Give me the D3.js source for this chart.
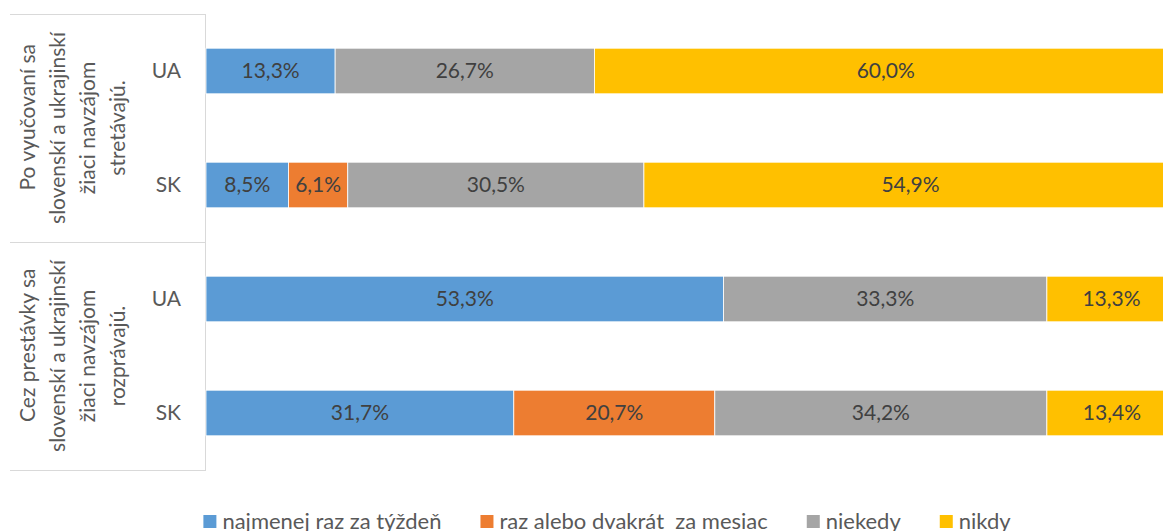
<!DOCTYPE html>
<html>
<head>
<meta charset="utf-8">
<script src="https://cdn.jsdelivr.net/npm/d3@7"></script>
<style>
  body { margin: 0; background: #fff; }
  svg { font-family: Lato, "Open Sans", sans-serif; }
</style>
</head>
<body>
<script>
// data
const series = ["najmenej raz za týždeň", "raz alebo dvakrát  za mesiac", "niekedy", "nikdy"];
const colors = ["#5b9bd5", "#ed7d31", "#a5a5a5", "#ffc000"];
const groups = [
  ["    Po vyučovaní sa", "slovenskí a ukrajinskí", "žiaci navzájom", "stretávajú."],
  ["    Cez prestávky sa", "slovenskí a ukrajinskí", "žiaci navzájom", "rozprávajú."]
];
const rows = ["UA", "SK", "UA", "SK"];
const rowGroup = [0, 0, 1, 1];
const najmenej = [13.3, 8.5, 53.3, 31.7];
const razAlebo = [0, 6.1, 0, 20.7];
const niekedy = [26.7, 30.5, 33.3, 34.2];
const nikdy = [60.0, 54.9, 13.3, 13.4];

const w = 1163, h = 531;
const plotTop = 14, plotBottom = 470, axisX = 206, plotRight = 1177;
const fs = 21;

const table = rows.map((r, i) => ({
  key: i, row: r,
  v: [najmenej[i], razAlebo[i], niekedy[i], nikdy[i]]
}));

const svg = d3.select("body").append("svg")
  .attr("width", w).attr("height", h);

const x = d3.scaleLinear().domain([0, 100]).range([axisX, plotRight]);
const y = d3.scaleBand()
  .domain(table.map(d => d.key))
  .range([plotTop, plotBottom])
  .paddingInner(0.6).paddingOuter(0.3);

// frame of the category area
const frame = svg.append("g").attr("stroke", "#d9d9d9").attr("stroke-width", 1);
[plotTop, (plotTop + plotBottom) / 2, plotBottom].forEach(yy => {
  frame.append("line").attr("x1", 10).attr("x2", axisX).attr("y1", yy + 0.5).attr("y2", yy + 0.5);
});
frame.append("line").attr("x1", axisX - 0.5).attr("x2", axisX - 0.5)
  .attr("y1", plotTop).attr("y2", plotBottom + 1);

// stacked bars
const stack = d3.stack().keys([0, 1, 2, 3]).value((d, k) => d.v[k]);
const layers = stack(table);

const barG = svg.append("g");
layers.forEach((layer, k) => {
  const segs = layer.filter(s => s[1] - s[0] > 0);
  barG.selectAll(null)
    .data(segs)
    .enter().append("rect")
    .attr("x", s => x(s[0]))
    .attr("y", s => y(s.data.key))
    .attr("width", s => x(s[1]) - x(s[0]))
    .attr("height", y.bandwidth())
    .attr("fill", colors[k])
    .attr("stroke", "#fff").attr("stroke-width", 0.8);

  barG.selectAll(null)
    .data(segs)
    .enter().append("text")
    .attr("x", s => (x(s[0]) + x(s[1])) / 2)
    .attr("y", s => y(s.data.key) + y.bandwidth() / 2)
    .attr("dy", "0.35em")
    .attr("text-anchor", "middle")
    .attr("font-size", fs)
    .attr("fill", "#404040")
    .text(s => (s[1] - s[0]).toFixed(1).replace(".", ",") + "%");
});

// row labels
svg.append("g").selectAll("text")
  .data(table).enter().append("text")
  .attr("x", 181)
  .attr("y", d => y(d.key) + y.bandwidth() / 2)
  .attr("dy", "0.35em")
  .attr("text-anchor", "end")
  .attr("font-size", fs)
  .attr("fill", "#595959")
  .text(d => d.row);

// group labels (rotated)
groups.forEach((lines, gi) => {
  const keys = table.filter(d => rowGroup[d.key] === gi).map(d => d.key);
  const cy = (y(keys[0]) + y(keys[keys.length - 1]) + y.bandwidth()) / 2;
  const t = svg.append("text")
    .attr("transform", `translate(73,${cy}) rotate(-90)`)
    .attr("text-anchor", "middle")
    .attr("font-size", fs)
    .attr("fill", "#595959")
    .style("white-space", "pre");
  lines.forEach((ln, li) => {
    t.append("tspan")
      .attr("x", 0)
      .attr("y", (li - (lines.length - 1) / 2) * 30)
      .attr("dy", "0.35em")
      .text(ln);
  });
});

// legend
const leg = svg.append("g");
let lx = 0;
series.forEach((s, i) => {
  const it = leg.append("g").attr("transform", `translate(${lx},0)`);
  it.append("rect").attr("x", 0).attr("y", 515).attr("width", 13).attr("height", 13).attr("fill", colors[i]);
  const tx = it.append("text").attr("x", 19).attr("y", 529)
    .attr("font-size", 22).attr("fill", "#595959")
    .style("white-space", "pre").text(s);
  lx += 19 + tx.node().getComputedTextLength() + 39;
});
const legW = lx - 39;
leg.attr("transform", `translate(${607 - legW / 2},0)`);
</script>
</body>
</html>
